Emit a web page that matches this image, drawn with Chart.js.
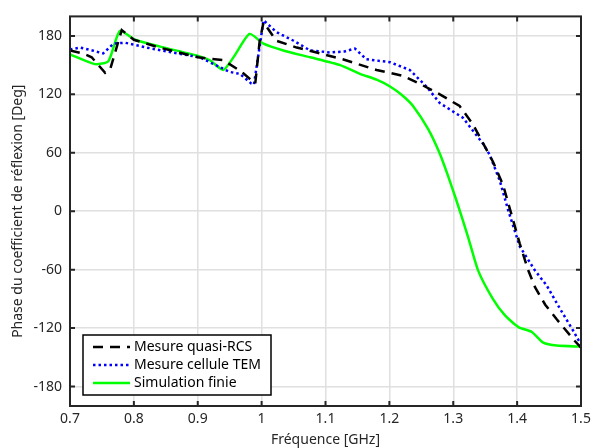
<!DOCTYPE html>
<html>
<head>
<meta charset="utf-8">
<script src="https://cdn.jsdelivr.net/npm/chart.js@4.4.1/dist/chart.umd.min.js"></script>
<style>
  html, body { margin: 0; padding: 0; background: #fff; }
  #wrap { width: 596px; height: 448px; position: relative; }
</style>
</head>
<body>
<div id="wrap"><canvas id="chart"></canvas></div>
<script>
// Data (frequency in GHz, phase in degrees)
const xTicks = [0.7, 0.8, 0.9, 1.0, 1.1, 1.2, 1.3, 1.4, 1.5];
const yTicks = [-180, -120, -60, 0, 60, 120, 180];

const rcsFreq = [0.70, 0.72, 0.734, 0.755, 0.763, 0.781, 0.80, 0.84, 0.90, 0.94, 0.969, 0.99, 0.997, 1.003, 1.023, 1.055, 1.08, 1.127, 1.18, 1.221, 1.25, 1.279, 1.31, 1.331, 1.362, 1.378, 1.394, 1.404, 1.417, 1.428, 1.444, 1.462, 1.49, 1.5];
const rcsPhase = [165, 162, 158, 142, 146, 186, 176, 168, 158, 155, 143, 131, 175, 194, 175, 168, 164, 156, 145, 139, 130, 120, 108, 89, 51, 27, -10, -33, -60, -78, -96, -111, -133, -140];

const temFreq = [0.70, 0.716, 0.735, 0.752, 0.768, 0.786, 0.82, 0.86, 0.903, 0.95, 0.966, 0.984, 0.988, 1.003, 1.023, 1.05, 1.076, 1.107, 1.13, 1.146, 1.164, 1.201, 1.232, 1.258, 1.279, 1.315, 1.347, 1.357, 1.373, 1.386, 1.404, 1.428, 1.446, 1.467, 1.488, 1.5];
const temPhase = [166, 168, 165, 162, 172, 173, 168, 163, 158, 143, 141, 131, 130, 196, 184, 175, 165, 163, 164, 167, 156, 153, 145, 128, 111, 96, 69, 58, 31, 1, -36, -61, -76, -100, -123, -137];

const simFreq = [0.70, 0.739, 0.76, 0.778, 0.802, 0.841, 0.903, 0.919, 0.94, 0.958, 0.981, 1.003, 1.034, 1.076, 1.123, 1.154, 1.18, 1.201, 1.22, 1.237, 1.261, 1.279, 1.292, 1.305, 1.323, 1.339, 1.362, 1.381, 1.402, 1.423, 1.441, 1.462, 1.5];
const simPhase = [161, 151, 154, 185, 176, 169, 159, 155, 145, 160, 182, 172, 165, 158, 150, 141, 135, 128, 119, 108, 84, 59, 36, 11, -26, -61, -90, -107, -119, -124, -135, -138, -139];

const seriesLabels = ['Mesure quasi-RCS', 'Mesure cellule TEM', 'Simulation finie'];

function toPoints(xs, ys) {
    return xs.map((x, i) => ({ x: x, y: ys[i] }));
}

const FONT = "'Noto Sans', 'Open Sans', sans-serif";
const AXIS_COLOR = '#262626';

// Box frame with inward ticks on all four sides (MATLAB-like)
const framePlugin = {
    id: 'frame',
    afterDraw(chart) {
        const ctx = chart.ctx;
        const a = chart.chartArea;
        const xs = chart.scales.x, ys = chart.scales.y;
        ctx.save();
        ctx.strokeStyle = AXIS_COLOR;
        ctx.lineWidth = 2;
        ctx.beginPath();
        xTicks.forEach(v => {
            const px = xs.getPixelForValue(v);
            ctx.moveTo(px, a.bottom); ctx.lineTo(px, a.bottom - 5);
            ctx.moveTo(px, a.top); ctx.lineTo(px, a.top + 5);
        });
        yTicks.forEach(v => {
            const py = ys.getPixelForValue(v);
            ctx.moveTo(a.left, py); ctx.lineTo(a.left + 5, py);
            ctx.moveTo(a.right, py); ctx.lineTo(a.right - 5, py);
        });
        ctx.stroke();
        ctx.strokeRect(a.left, a.top, a.right - a.left, a.bottom - a.top);
        ctx.restore();
    }
};

// Legend drawn inside the axes, lower left
const legendPlugin = {
    id: 'innerLegend',
    afterDatasetsDraw(chart) {
        const ctx = chart.ctx;
        const a = chart.chartArea;
        const x0 = a.left + 13, y0 = a.bottom - 71;
        const w = 188, h = 60;
        ctx.save();
        ctx.fillStyle = '#fff';
        ctx.fillRect(x0, y0, w, h);
        ctx.strokeStyle = '#000';
        ctx.lineWidth = 1.5;
        ctx.strokeRect(x0, y0, w, h);
        ctx.font = '14px ' + FONT;
        ctx.textBaseline = 'middle';
        chart.data.datasets.forEach((ds, i) => {
            const ry = y0 + 12 + i * 18;
            ctx.strokeStyle = ds.borderColor;
            ctx.lineWidth = ds.borderWidth;
            ctx.setLineDash(ds.borderDash || []);
            ctx.beginPath();
            ctx.moveTo(x0 + 10, ry);
            ctx.lineTo(x0 + 47, ry);
            ctx.stroke();
            ctx.setLineDash([]);
            ctx.fillStyle = '#000';
            ctx.fillText(ds.label, x0 + 51, ry);
        });
        ctx.restore();
    }
};

const chart = new Chart(document.getElementById('chart').getContext('2d'), {
    type: 'line',
    data: {
        datasets: [
            {
                label: seriesLabels[0],
                data: toPoints(rcsFreq, rcsPhase),
                borderColor: '#000000',
                borderWidth: 2.5,
                borderDash: [10, 7],
                pointRadius: 0,
                tension: 0
            },
            {
                label: seriesLabels[1],
                data: toPoints(temFreq, temPhase),
                borderColor: '#0000ff',
                borderWidth: 2.5,
                borderDash: [2.5, 3],
                pointRadius: 0,
                tension: 0
            },
            {
                label: seriesLabels[2],
                data: toPoints(simFreq, simPhase),
                borderColor: '#00ff00',
                borderWidth: 2.5,
                pointRadius: 0,
                tension: 0.2
            }
        ]
    },
    options: {
        responsive: true,
        maintainAspectRatio: false,
        animation: false,
        layout: { padding: { top: 8, right: 15, left: 10, bottom: 0 } },
        plugins: {
            legend: { display: false },
            tooltip: { enabled: false }
        },
        scales: {
            x: {
                type: 'linear',
                min: 0.7,
                max: 1.5,
                afterBuildTicks: s => { s.ticks = xTicks.map(v => ({ value: v })); },
                afterFit: s => { s.height = 42; },
                ticks: {
                    color: AXIS_COLOR,
                    font: { family: FONT, size: 14 },
                    padding: 5,
                    maxRotation: 0,
                    callback: v => (Math.round(v * 10) / 10).toString()
                },
                grid: { color: '#e0e0e0', lineWidth: 1.5, drawTicks: false },
                border: { display: false },
                title: {
                    display: true,
                    text: 'Fréquence [GHz]',
                    color: AXIS_COLOR,
                    font: { family: FONT, size: 14 },
                    padding: { top: 0, bottom: 0 }
                }
            },
            y: {
                min: -200,
                max: 200,
                afterBuildTicks: s => { s.ticks = yTicks.map(v => ({ value: v })); },
                afterFit: s => { s.width = 60; },
                ticks: {
                    color: AXIS_COLOR,
                    font: { family: FONT, size: 14 },
                    padding: 8
                },
                grid: { color: '#e0e0e0', lineWidth: 1.5, drawTicks: false },
                border: { display: false },
                title: {
                    display: true,
                    text: 'Phase du coefficient de réflexion [Deg]',
                    color: AXIS_COLOR,
                    font: { family: FONT, size: 14 },
                    padding: { top: 0, bottom: 0 }
                }
            }
        }
    },
    plugins: [legendPlugin, framePlugin]
});
</script>
</body>
</html>
